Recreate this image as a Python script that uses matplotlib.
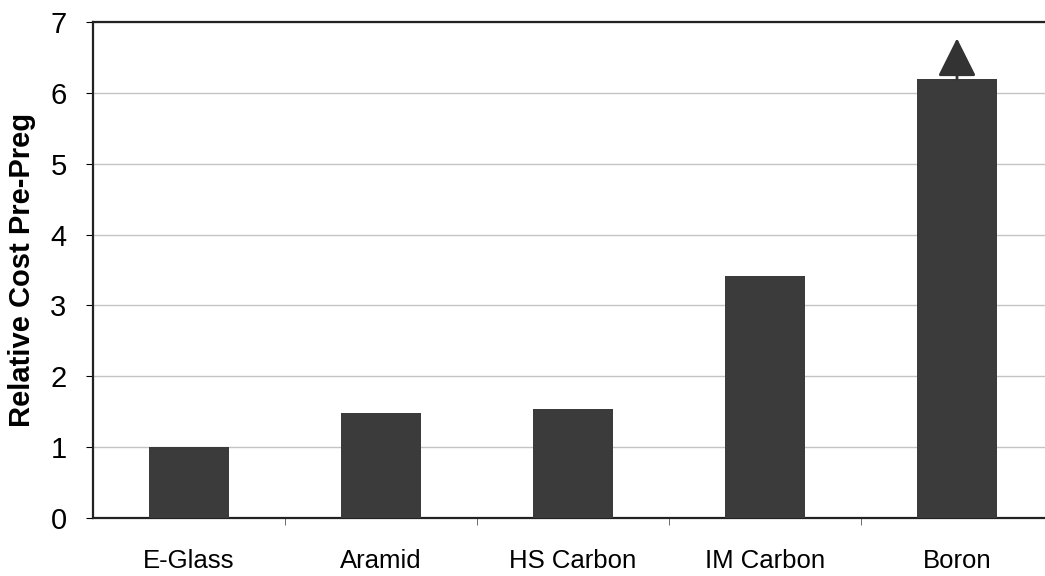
import matplotlib
matplotlib.use("Agg")
import matplotlib.pyplot as plt

materials = ["E-Glass", "Aramid", "HS Carbon", "IM Carbon", "Boron"]
relative_cost = [1.0, 1.48, 1.54, 3.41, 6.19]
arrow_tip = 6.77  # boron cost goes off the top, marked by an arrow

plt.rcParams['font.family'] = ['Liberation Sans', 'DejaVu Sans']

fig = plt.figure(figsize=(10.45, 5.76), dpi=100)
# right edge of the plot area runs off the picture
ax = fig.add_axes([93 / 1045, 1 - 518 / 576, 960 / 1045, 496 / 576])

x = list(range(len(materials)))
ax.bar(x, relative_cost, width=0.42, color="#3b3b3b", zorder=3)

# arrow on the boron bar
ax.annotate("", xy=(x[-1], arrow_tip), xytext=(x[-1], relative_cost[-1]),
            arrowprops=dict(arrowstyle="-|>,head_width=0.6,head_length=1.2",
                            mutation_scale=20, color="#333333", lw=2.0,
                            shrinkA=0, shrinkB=0), zorder=4)

ax.set_xlim(-0.5, len(materials) - 0.5)
ax.set_ylim(0, 7)
ax.set_yticks(range(0, 8))
ax.yaxis.grid(True, color="#c4c4c4", linewidth=1.0, zorder=0)

ax.set_xticks(x)
ax.set_xticklabels(materials, fontsize=18.5)
ax.set_xticks([i + 0.5 for i in x[:-1]], minor=True)
ax.tick_params(axis="x", which="major", length=0, pad=22)
ax.tick_params(axis="x", which="minor", length=5, color="#555555")
ax.tick_params(axis="y", labelsize=21, length=5, pad=14)

ax.set_ylabel("Relative Cost Pre-Preg", fontsize=21, fontweight="bold", labelpad=10)

for side in ["left", "bottom", "top"]:
    ax.spines[side].set_color("#222222")
    ax.spines[side].set_linewidth(1.6)
ax.spines["right"].set_visible(False)

fig.savefig("out.png", dpi=100)
